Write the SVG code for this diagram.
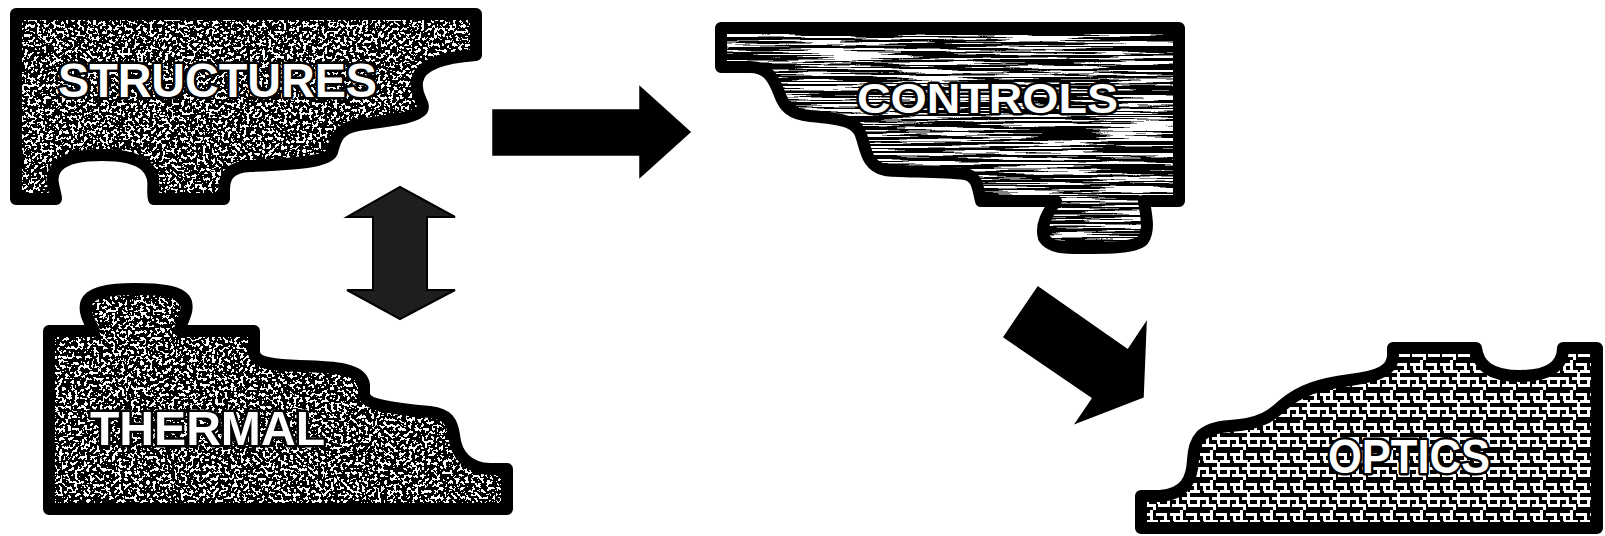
<svg xmlns="http://www.w3.org/2000/svg" xmlns:xlink="http://www.w3.org/1999/xlink" width="1605" height="536" viewBox="0 0 1605 536">
<style>
.border{fill:none;stroke:#000;stroke-width:12;stroke-linejoin:round}
.lbl{font-family:"Liberation Sans",Arial,sans-serif;font-weight:bold;fill:#fff;stroke:#000;stroke-width:5;paint-order:stroke;stroke-linejoin:round}
.arrow{fill:#000;stroke:#000;stroke-width:1.5;stroke-linejoin:miter}
.darrow{fill:#1e1e1e;stroke:#000;stroke-width:2}
</style>
<defs>
<filter id="speckle" color-interpolation-filters="sRGB">
<feTurbulence type="fractalNoise" baseFrequency="0.32" numOctaves="2" seed="5" result="n"/>
<feColorMatrix in="n" type="matrix" values="1 0 0 0 0  1 0 0 0 0  1 0 0 0 0  0 0 0 0 1" result="g"/>
<feComponentTransfer in="g" result="t">
<feFuncR type="discrete" tableValues="0 0 0 0 0 0 0 0 0 0 0 1 1 1 1 1 1 1 1 1"/>
<feFuncG type="discrete" tableValues="0 0 0 0 0 0 0 0 0 0 0 1 1 1 1 1 1 1 1 1"/>
<feFuncB type="discrete" tableValues="0 0 0 0 0 0 0 0 0 0 0 1 1 1 1 1 1 1 1 1"/>
</feComponentTransfer>
<feComposite in="t" in2="SourceGraphic" operator="in"/>
</filter>
<filter id="streaks" color-interpolation-filters="sRGB">
<feTurbulence type="fractalNoise" baseFrequency="0.01 0.45" numOctaves="3" seed="9" result="n"/>
<feColorMatrix in="n" type="matrix" values="1 0 0 0 0  1 0 0 0 0  1 0 0 0 0  0 0 0 0 1" result="g"/>
<feComponentTransfer in="g" result="t">
<feFuncR type="discrete" tableValues="0 0 0 0 0 0 0 0 0 0 0.5 1 1 1 1 1 1 1 1 1"/>
<feFuncG type="discrete" tableValues="0 0 0 0 0 0 0 0 0 0 0.5 1 1 1 1 1 1 1 1 1"/>
<feFuncB type="discrete" tableValues="0 0 0 0 0 0 0 0 0 0 0.5 1 1 1 1 1 1 1 1 1"/>
</feComponentTransfer>
<feComposite in="t" in2="SourceGraphic" operator="in"/>
</filter>
<pattern id="maze" width="30" height="30" patternUnits="userSpaceOnUse">
<rect width="30" height="30" fill="#000"/>
<g fill="#fff">
<rect x="0" y="3" width="12" height="3"/><rect x="16" y="3" width="10" height="3"/>
<rect x="4" y="10" width="14" height="3"/><rect x="20" y="10" width="10" height="3"/>
<rect x="0" y="17" width="8" height="3"/><rect x="12" y="17" width="16" height="3"/>
<rect x="2" y="24" width="12" height="3"/><rect x="18" y="24" width="9" height="3"/>
<rect x="3" y="5" width="3" height="6"/><rect x="10" y="0" width="3" height="10"/>
<rect x="24" y="3" width="3" height="8"/><rect x="17" y="12" width="3" height="12"/>
<rect x="6" y="17" width="3" height="9"/><rect x="27" y="17" width="3" height="10"/>
<rect x="13" y="24" width="3" height="6"/>
</g>
</pattern>
<path id="p-structures" d="M 16 14 H 476 V 55 C 450 57, 419 62, 417 82 C 415 98, 426 103, 422 110 C 416 118, 392 120, 358 125 C 336 129, 335 142, 332 152 C 328 162, 296 164, 250 166 C 228 167, 224 178, 224 190 V 199 H 154 C 151 190, 158 178, 146 166 C 136 157, 118 155, 102 155 C 88 155, 68 156, 58 166 C 47 178, 56 190, 56 199 H 16 Z"/>
<path id="p-thermal" d="M 49 331 H 94 C 90 322, 84 314, 86 304 C 89 292, 110 289, 135 289 C 160 289, 182 291, 186 302 C 189 314, 180 322, 180 331 H 254 V 352 C 254 362, 268 365, 300 366 C 335 367, 362 368, 364 385 V 395 C 366 405, 395 409, 430 412 C 448 414, 452 422, 454 435 C 456 455, 468 468, 490 469 H 507 V 509 H 49 Z"/>
<path id="p-controls" d="M 721 28 H 1179 V 201 H 1144 C 1146 215, 1150 230, 1143 240 C 1134 249, 1100 248, 1083 248 C 1065 248, 1050 248, 1044 238 C 1040 225, 1048 212, 1056 201 H 981 C 978 190, 978 176, 965 174 C 940 171, 900 172, 885 170 C 866 166, 866 148, 861 135 C 857 122, 845 119, 810 116 C 790 114, 784 106, 780 95 C 774 79, 768 67, 750 67 H 721 Z"/>
<path id="p-optics" d="M 1141 528 V 496 H 1160 C 1185 494, 1192 480, 1193 460 C 1194 440, 1200 428, 1230 426 C 1262 424, 1272 415, 1283 405 C 1300 390, 1320 384, 1350 380 C 1380 376, 1393 370, 1393 355 V 348 H 1476 C 1478 365, 1490 376, 1520 376 C 1550 376, 1563 365, 1563 348 H 1597 V 528 Z"/>
</defs>

<g id="node-structures">
<use xlink:href="#p-structures" fill="#000" filter="url(#speckle)"/>
<use xlink:href="#p-structures" class="border"/>
<text class="lbl" x="58" y="97" font-size="48" textLength="319" lengthAdjust="spacingAndGlyphs">STRUCTURES</text>
</g>

<g id="node-thermal">
<use xlink:href="#p-thermal" fill="#000" filter="url(#speckle)"/>
<use xlink:href="#p-thermal" class="border"/>
<text class="lbl" x="90" y="445" font-size="48" textLength="235" lengthAdjust="spacingAndGlyphs">THERMAL</text>
</g>

<g id="node-controls">
<use xlink:href="#p-controls" fill="#000" filter="url(#streaks)"/>
<use xlink:href="#p-controls" class="border"/>
<text class="lbl" x="857" y="113" font-size="43" textLength="261" lengthAdjust="spacingAndGlyphs">CONTROLS</text>
</g>

<g id="node-optics">
<use xlink:href="#p-optics" fill="url(#maze)"/>
<use xlink:href="#p-optics" class="border"/>
<text class="lbl" x="1328" y="473" font-size="48" textLength="162" lengthAdjust="spacingAndGlyphs">OPTICS</text>
</g>

<g id="connectors">
<polygon class="arrow" points="493,110 640,110 640,87 690,132 640,177 640,155 493,155"/>
<polygon class="darrow" points="400,187 455,217 427,217 427,290 455,290 400,319 347,290 373,290 373,217 347,217"/>
<polygon class="arrow" points="1038,287 1128,350 1146,323 1143,397 1076,423 1093,398 1004,337"/>
</g>
</svg>
